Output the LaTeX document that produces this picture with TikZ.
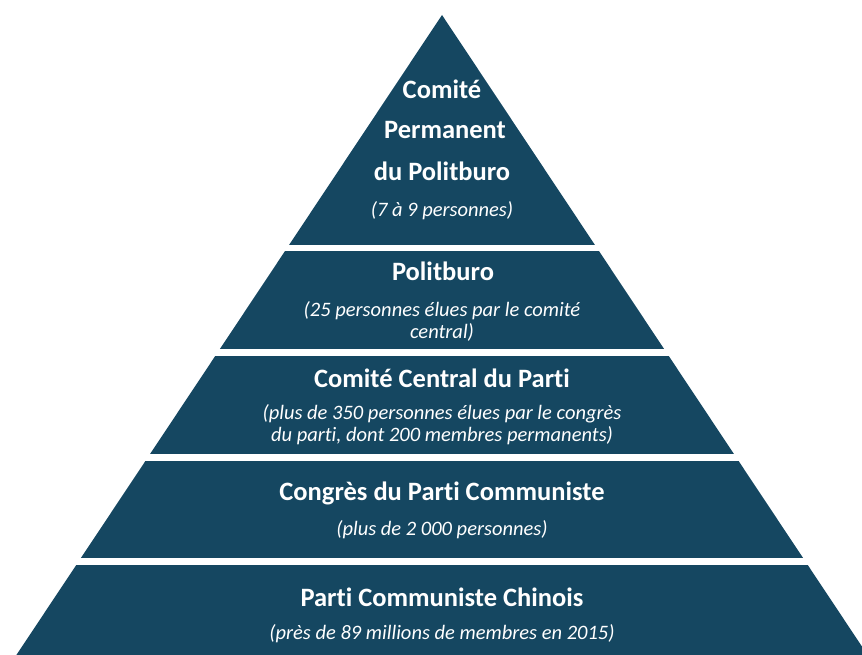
\documentclass[tikz,border=0pt]{standalone}
\usepackage{fontspec}
\setmainfont{Carlito}[Ligatures={NoCommon}]
\definecolor{pyr}{RGB}{21,71,97}
\begin{document}
\begin{tikzpicture}[x=1pt,y=-1pt,
  title/.style={text=white,font=\bfseries\fontsize{26.5}{30}\selectfont,align=center,inner sep=0pt},
  sub/.style={text=white,font=\itshape\fontsize{20.5}{22}\selectfont,align=center,inner sep=0pt}]
\useasboundingbox (0,0) rectangle (862,655);
\begin{scope}
\clip (0,0) rectangle (862,655);
\fill[pyr] (442,15) -- (867.6,655) -- (16.4,655) -- cycle;
\fill[white] (0,245) rectangle (862,251);
\fill[white] (0,349) rectangle (862,356);
\fill[white] (0,454) rectangle (862,461);
\fill[white] (0,558) rectangle (862,565);
\end{scope}
\node[title] (t1) at (442,89) {Comité};
\node[title] (t2) at (445,130) {Permanent};
\node[title] (t3) at (442,171) {du Politburo};
\node[sub] (s1) at (442,211) {(7 à 9 personnes)};
\node[title] (t4) at (443,271) {Politburo};
\node[sub] (s2) at (442,321) {(25 personnes élues par le comité\\central)};
\node[title] (t5) at (442,378) {Comité Central du Parti};
\node[sub] (s3) at (442,425) {(plus de 350 personnes élues par le congrès\\du parti, dont 200 membres permanents)};
\node[title] (t6) at (442,493) {Congrès du Parti Communiste};
\node[sub] (s4) at (442,530) {(plus de 2 000 personnes)};
\node[title] (t7) at (442,597) {Parti Communiste Chinois};
\node[sub] (s5) at (442,634) {(près de 89 millions de membres en 2015)};
\end{tikzpicture}
\end{document}
